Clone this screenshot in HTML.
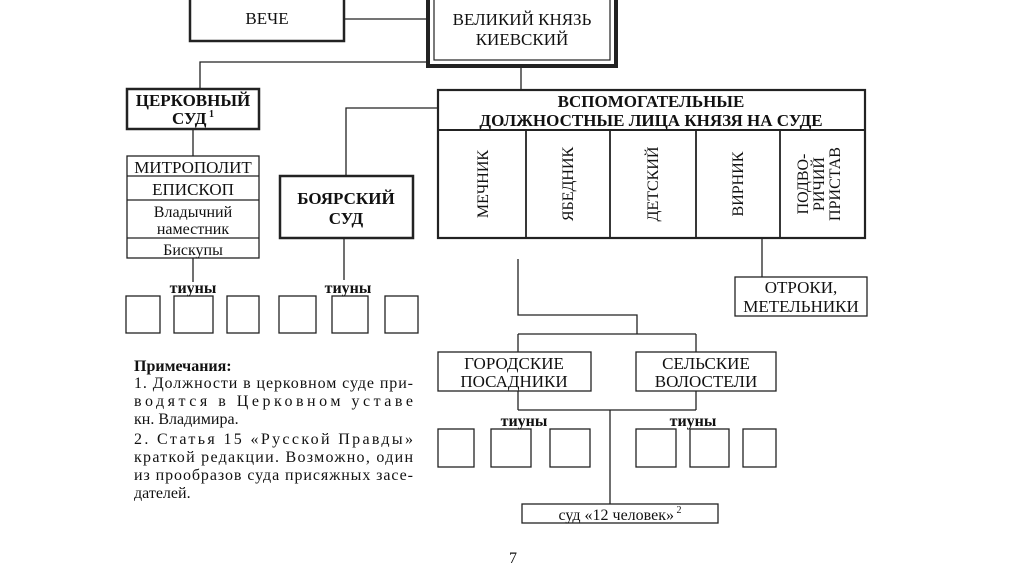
<!DOCTYPE html>
<html><head><meta charset="utf-8"><style>
html,body{margin:0;padding:0;background:#fff;}
svg{display:block;}
text{font-family:"Liberation Serif",serif;fill:#111;}
</style></head><body>
<svg width="1024" height="574" viewBox="0 0 1024 574" xmlns="http://www.w3.org/2000/svg">
<g stroke="#222" fill="none" stroke-width="1.3">
<line x1="344" y1="19" x2="427" y2="19"/>
<polyline points="427,62 200,62 200,89"/>
<line x1="521" y1="67" x2="521" y2="90"/>
<line x1="193" y1="129" x2="193" y2="156"/>
<line x1="193" y1="258" x2="193" y2="282"/>
<polyline points="438,108 346,108 346,176"/>
<line x1="344" y1="238" x2="344" y2="280"/>
<line x1="762" y1="238" x2="762" y2="277"/>
<polyline points="518,259 518,315 637,315 637,334"/>
<line x1="518" y1="334" x2="696" y2="334"/>
<line x1="518" y1="334" x2="518" y2="352"/>
<line x1="696" y1="334" x2="696" y2="352"/>
<line x1="518" y1="391" x2="518" y2="410"/>
<line x1="696" y1="391" x2="696" y2="410"/>
<line x1="518" y1="410" x2="696" y2="410"/>
<line x1="610" y1="410" x2="610" y2="504"/>
</g>
<g fill="#fff" stroke="#222">
<rect x="190" y="-5" width="154" height="46" stroke-width="2.5"/>
<rect x="428" y="-5" width="188" height="71" stroke-width="4"/>
<rect x="434" y="-1" width="176" height="61" stroke-width="1.2"/>
<rect x="127" y="89" width="132" height="40" stroke-width="2.5"/>
<rect x="127" y="156" width="132" height="102" stroke-width="1.3"/>
<rect x="280" y="176" width="133" height="62" stroke-width="2.5"/>
<rect x="438" y="90" width="427" height="148" stroke-width="2.2"/>
<rect x="735" y="277" width="132" height="39" stroke-width="1.3"/>
<rect x="438" y="352" width="153" height="39" stroke-width="1.3"/>
<rect x="636" y="352" width="140" height="39" stroke-width="1.3"/>
<rect x="522" y="504" width="196" height="19" stroke-width="1.3"/>
</g>
<g fill="none" stroke="#222" stroke-width="1.3">
<line x1="127" y1="176" x2="259" y2="176"/>
<line x1="127" y1="200" x2="259" y2="200"/>
<line x1="127" y1="238" x2="259" y2="238"/>
<line x1="438" y1="130" x2="865" y2="130" stroke-width="2"/>
<line x1="526" y1="130" x2="526" y2="238" stroke-width="1.8"/>
<line x1="610" y1="130" x2="610" y2="238" stroke-width="1.8"/>
<line x1="696" y1="130" x2="696" y2="238" stroke-width="1.8"/>
<line x1="780" y1="130" x2="780" y2="238" stroke-width="1.8"/>
<rect x="126" y="296" width="34" height="37"/>
<rect x="174" y="296" width="39" height="37"/>
<rect x="227" y="296" width="32" height="37"/>
<rect x="279" y="296" width="37" height="37"/>
<rect x="332" y="296" width="36" height="37"/>
<rect x="385" y="296" width="33" height="37"/>
<rect x="438" y="429" width="36" height="38"/>
<rect x="491" y="429" width="40" height="38"/>
<rect x="550" y="429" width="40" height="38"/>
<rect x="636" y="429" width="40" height="38"/>
<rect x="690" y="429" width="39" height="38"/>
<rect x="743" y="429" width="33" height="38"/>
</g>
<g font-size="17" text-anchor="middle">
<text x="267" y="24">ВЕЧЕ</text>
<text x="522" y="25">ВЕЛИКИЙ КНЯЗЬ</text>
<text x="522" y="45">КИЕВСКИЙ</text>
<text x="193" y="106" font-weight="bold">ЦЕРКОВНЫЙ</text>
<text x="193" y="124" font-weight="bold">СУД<tspan font-size="10" dy="-7"> 1</tspan></text>
<text x="193" y="173">МИТРОПОЛИТ</text>
<text x="193" y="195">ЕПИСКОП</text>
<text x="193" y="217" font-size="16">Владычний</text>
<text x="193" y="234" font-size="16">наместник</text>
<text x="193" y="255" font-size="16">Бискупы</text>
<text x="346" y="204" font-weight="bold">БОЯРСКИЙ</text>
<text x="346" y="224" font-weight="bold">СУД</text>
<text x="651" y="107" font-weight="bold">ВСПОМОГАТЕЛЬНЫЕ</text>
<text x="651" y="126" font-weight="bold">ДОЛЖНОСТНЫЕ  ЛИЦА КНЯЗЯ  НА СУДЕ</text>
<text transform="translate(488,184) rotate(-90)" font-size="16">МЕЧНИК</text>
<text transform="translate(573,184) rotate(-90)" font-size="16">ЯБЕДНИК</text>
<text transform="translate(658,184) rotate(-90)" font-size="16">ДЕТСКИЙ</text>
<text transform="translate(743,184) rotate(-90)" font-size="16">ВИРНИК</text>
<text transform="translate(808,184) rotate(-90)" font-size="16">ПОДВО-</text>
<text transform="translate(824,184) rotate(-90)" font-size="16">РИЧИЙ</text>
<text transform="translate(840,184) rotate(-90)" font-size="16">ПРИСТАВ</text>
<text x="801" y="293">ОТРОКИ,</text>
<text x="801" y="312">МЕТЕЛЬНИКИ</text>
<text x="514" y="369">ГОРОДСКИЕ</text>
<text x="514" y="387">ПОСАДНИКИ</text>
<text x="706" y="369">СЕЛЬСКИЕ</text>
<text x="706" y="387">ВОЛОСТЕЛИ</text>
<text x="620" y="520" font-size="16">суд «12 человек»<tspan font-size="10" dy="-7"> 2</tspan></text>
</g>
<g font-size="16" font-weight="bold" text-anchor="middle">
<text x="193" y="293">тиуны</text>
<text x="348" y="293">тиуны</text>
<text x="524" y="426">тиуны</text>
<text x="693" y="426">тиуны</text>
</g>
<g font-size="16">
<text x="134" y="371" font-weight="bold">Примечания:</text>
<text x="134" y="388" textLength="279" lengthAdjust="spacing">1. Должности в церковном  суде  при-</text>
<text x="134" y="406" textLength="279" lengthAdjust="spacing">водятся    в    Церковном    уставе</text>
<text x="134" y="424">кн. Владимира.</text>
<text x="134" y="444" textLength="279" lengthAdjust="spacing">2. Статья 15  «Русской  Правды»</text>
<text x="134" y="462" textLength="279" lengthAdjust="spacing">краткой  редакции. Возможно, один</text>
<text x="134" y="480" textLength="279" lengthAdjust="spacing">из прообразов  суда  присяжных засе-</text>
<text x="134" y="498">дателей.</text>
<text x="513" y="563" text-anchor="middle">7</text>
</g>
</svg>
</body></html>
